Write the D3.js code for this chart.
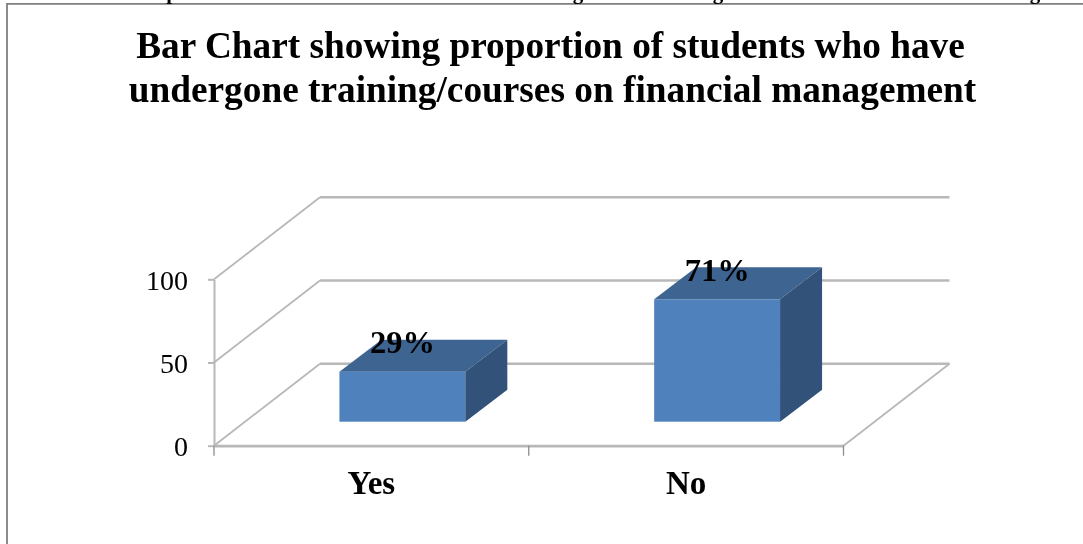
<!DOCTYPE html>
<html>
<head>
<meta charset="utf-8">
<script src="https://cdn.jsdelivr.net/npm/d3@7"></script>
<style>
    html, body { margin: 0; padding: 0; background: #fff; overflow: hidden; }
    svg { display: block; filter: blur(0.4px); }
    text { font-family: "Liberation Serif", serif; fill: #000; }
</style>
</head>
<body>
<div id="chart"></div>
<script>
const categories = ["Yes", "No"];
const percentages = [29, 71];
const yTicks = [0, 50, 100];
const titleLines = [
    "Bar Chart showing proportion of students who have",
    "undergone training/courses on financial management"
];
// bottoms of letters from the line of body text cut off above the frame
const clippedLetters = ["p", "g", "g", "g"];
const clippedLetterX = [172, 578, 718, 1035];

const WIDTH = 1083;
const HEIGHT = 544;
const GRID = "#b8b8b8";

// oblique projection of the 3D box: how far the back wall sits from the front
const WALL_DX = 106;
const WALL_DY = -82;
// where the bars stand on the floor, and how deep they are
const BAR_DX = 31;
const BAR_DY = -24;
const BAR_DEPTH_X = 42;
const BAR_DEPTH_Y = -32;

const svg = d3.select("#chart")
    .append("svg")
        .attr("width", WIDTH)
        .attr("height", HEIGHT);

// frame only shows on top and left, the rest was cropped off
svg.append("path")
    .attr("d", d3.line()([[7, HEIGHT], [7, 3.8], [WIDTH, 3.8]]))
    .attr("fill", "none")
    .attr("stroke", "#7f7f7f")
    .attr("stroke-width", 1.8);

svg.selectAll(".clipped")
    .data(clippedLetters)
    .enter()
    .append("text")
        .attr("class", "clipped")
        .attr("x", (d, i) => clippedLetterX[i])
        .attr("y", -1)
        .attr("text-anchor", "middle")
        .style("font-size", "21px")
        .style("font-weight", "bold")
        .text(d => d);

svg.selectAll(".title")
    .data(titleLines)
    .enter()
    .append("text")
        .attr("class", "title")
        .attr("x", (d, i) => 550.5 + i * 2)
        .attr("y", (d, i) => 58 + i * 44)
        .attr("text-anchor", "middle")
        .style("font-size", "37.3px")
        .style("font-weight", "bold")
        .text(d => d);

const x = d3.scaleBand()
    .domain(categories)
    .range([214, 843.5]);

const y = d3.scaleLinear()
    .domain([0, 100])
    .range([445.7, 279.3]);

// the bars stand nearer the viewer than the wall, so a unit is a bit taller there
const barHeight = d3.scaleLinear()
    .domain([0, 100])
    .range([0, 172.4]);

const barWidth = x.bandwidth() * 0.4;

const walls = svg.append("g")
    .attr("fill", "none")
    .attr("stroke", GRID);

walls.selectAll(".back")
    .data(yTicks)
    .enter()
    .append("path")
        .attr("class", "back")
        .attr("stroke-width", 2.4)
        .attr("d", d => d3.line()([
            [214 + WALL_DX, y(d) + WALL_DY],
            [843.5 + WALL_DX, y(d) + WALL_DY]
        ]));

walls.selectAll(".slant")
    .data(yTicks)
    .enter()
    .append("path")
        .attr("class", "slant")
        .attr("stroke-width", 1.8)
        .attr("d", d => d3.line()([[214, y(d)], [214 + WALL_DX, y(d) + WALL_DY]]));

walls.append("path")
    .attr("stroke-width", 1.8)
    .attr("d", d3.line()([
        [843.5, y(0)],
        [843.5 + WALL_DX, y(0) + WALL_DY]
    ]));

const yAxis = svg.append("g")
    .attr("transform", "translate(214, 0)")
    .call(d3.axisLeft(y).tickValues(yTicks).tickSize(6).tickSizeOuter(0).tickPadding(20));

const xAxis = svg.append("g")
    .attr("transform", `translate(0, ${y(0)})`)
    .call(d3.axisBottom(x).tickSize(0).tickSizeOuter(0).tickPadding(25));

yAxis.selectAll("line").attr("stroke", GRID).attr("stroke-width", 2);
yAxis.select(".domain").attr("stroke", GRID).attr("stroke-width", 2);
yAxis.selectAll("text")
    .style("font-size", "28px")
    .attr("dy", "0.36em");

xAxis.select(".domain").attr("stroke", GRID).attr("stroke-width", 2.8);
xAxis.selectAll("text")
    .style("font-size", "33px")
    .style("font-weight", "bold")
    .attr("dy", "0.71em");

// tick marks sit on the band edges, not on the band centres
xAxis.selectAll(".edge")
    .data([...categories.map(d => x(d)), x.range()[1]])
    .enter()
    .append("line")
        .attr("class", "edge")
        .attr("x1", d => d)
        .attr("x2", d => d)
        .attr("y1", 0)
        .attr("y2", 10)
        .attr("stroke", "#8c8c8c")
        .attr("stroke-width", 1.3);

const bars = svg.selectAll(".bar")
    .data(categories.map((c, i) => ({
        category: c,
        value: percentages[i],
        left: x(c) + (x.bandwidth() - barWidth) / 2 + BAR_DX,
        base: y(0) + BAR_DY
    })))
    .enter()
    .append("g")
        .attr("class", "bar");

bars.append("rect")
    .attr("x", d => d.left)
    .attr("y", d => d.base - barHeight(d.value))
    .attr("width", barWidth)
    .attr("height", d => barHeight(d.value))
    .attr("fill", "#4f81bd");

bars.append("path")
    .attr("fill", "#3e6492")
    .attr("d", d => {
        const top = d.base - barHeight(d.value);
        return d3.line()([
            [d.left, top],
            [d.left + barWidth, top],
            [d.left + barWidth + BAR_DEPTH_X, top + BAR_DEPTH_Y],
            [d.left + BAR_DEPTH_X, top + BAR_DEPTH_Y]
        ]) + "Z";
    });

bars.append("path")
    .attr("fill", "#325279")
    .attr("d", d => {
        const top = d.base - barHeight(d.value);
        return d3.line()([
            [d.left + barWidth, top],
            [d.left + barWidth + BAR_DEPTH_X, top + BAR_DEPTH_Y],
            [d.left + barWidth + BAR_DEPTH_X, d.base + BAR_DEPTH_Y],
            [d.left + barWidth, d.base]
        ]) + "Z";
    });

bars.append("text")
    .attr("x", d => d.left + barWidth / 2)
    .attr("y", d => d.base - barHeight(d.value) - 18.5)
    .attr("text-anchor", "middle")
    .style("font-size", "32.5px")
    .style("font-weight", "bold")
    .text(d => d.value + "%");
</script>
</body>
</html>
